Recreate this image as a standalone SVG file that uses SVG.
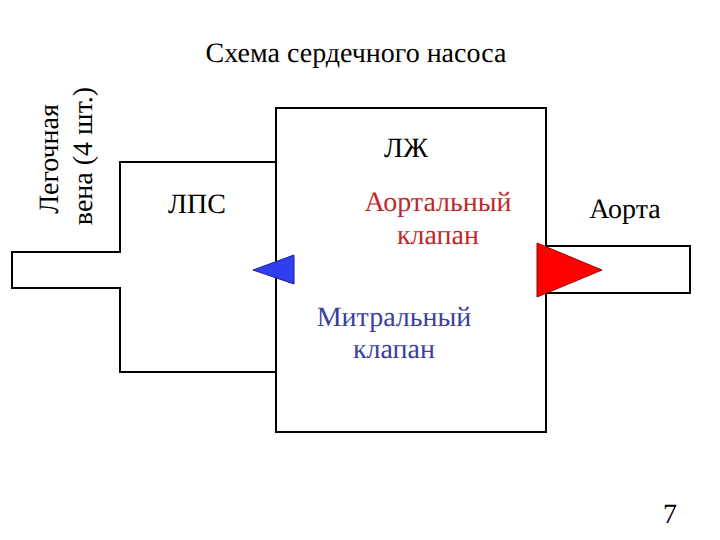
<svg xmlns="http://www.w3.org/2000/svg" width="720" height="540" viewBox="0 0 720 540">
<style>
.ln{fill:none;stroke:#000;stroke-width:2}
</style>
<rect width="720" height="540" fill="#fff"/>
<g font-family="Times New Roman, Liberation Serif, serif" font-size="28" text-rendering="geometricPrecision">
<text fill="#000" x="356" y="62" text-anchor="middle">Схема сердечного насоса</text>
<text fill="#000" x="670" y="523" text-anchor="middle">7</text>
<g id="pulmonary-vein-label">
<text fill="#000" transform="translate(58,159) rotate(-90)" text-anchor="middle">Легочная</text>
<text fill="#000" transform="translate(92,156) rotate(-90)" text-anchor="middle">вена (4 шт.)</text>
</g>
<g id="atrium">
<path class="ln" d="M276,162 H120 V252 H12 V288 H120 V372 H276"/>
<text fill="#000" x="197" y="213" text-anchor="middle">ЛПС</text>
</g>
<g id="ventricle">
<rect class="ln" x="276" y="108" width="270" height="324"/>
<text fill="#000" x="406" y="157" text-anchor="middle">ЛЖ</text>
</g>
<g id="aorta">
<path class="ln" d="M546,246 H690 V293 H546"/>
<text fill="#000" x="625" y="218" text-anchor="middle">Аорта</text>
</g>
<g id="mitral-valve">
<polygon points="253,270 294,255 294,284" fill="#2f3ff0" stroke="#1a1a80" stroke-width="1"/>
<text fill="#3a3fa0" x="394" y="326" text-anchor="middle">Митральный</text>
<text fill="#3a3fa0" x="394" y="358" text-anchor="middle">клапан</text>
</g>
<g id="aortic-valve">
<polygon points="537,243 602,270 537,297" fill="#ff0000" stroke="#a00000" stroke-width="1"/>
<text fill="#c0282c" x="438" y="211" text-anchor="middle">Аортальный</text>
<text fill="#c0282c" x="438" y="244" text-anchor="middle">клапан</text>
</g>
</g>
</svg>
